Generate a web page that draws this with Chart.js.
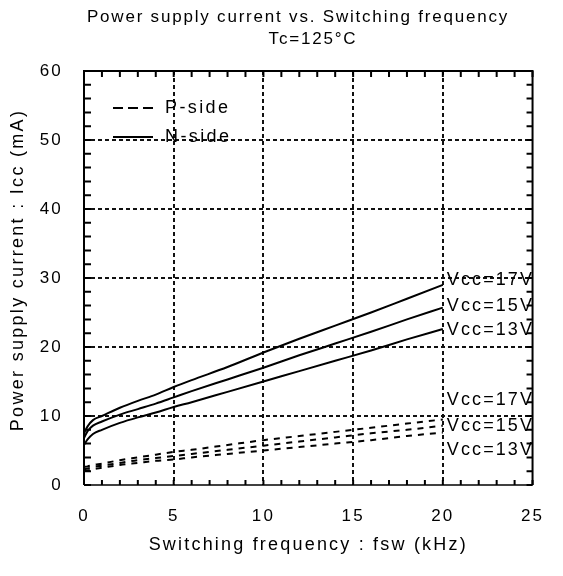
<!DOCTYPE html>
<html>
<head>
<meta charset="utf-8">
<script src="https://cdn.jsdelivr.net/npm/chart.js@4"></script>
<style>
  html, body { margin: 0; padding: 0; background: #fff; }
  canvas { display: block; }
</style>
</head>
<body>
<canvas id="chart" width="563" height="576"></canvas>
<script>
// ---------------------------------------------------------
// Datos (fsw en kHz, Icc en mA)
// ---------------------------------------------------------
const freq = [0, 0.2, 0.5, 1, 2, 3, 4, 5, 6, 8, 10, 12, 14, 16, 18, 20];

// N-side (linea continua)
const nSide17 = [7.5, 8.5, 9.4, 10.0, 11.2, 12.2, 13.1, 14.2, 15.2, 17.1, 19.2, 21.2, 23.1, 25.0, 27.0, 29.0];
const nSide15 = [6.8, 7.8, 8.6, 9.2, 10.2, 11.0, 11.8, 12.7, 13.6, 15.3, 17.0, 18.8, 20.5, 22.2, 24.0, 25.7];
const nSide13 = [5.8, 6.6, 7.4, 8.0, 9.0, 9.8, 10.5, 11.3, 12.0, 13.5, 15.0, 16.5, 18.0, 19.5, 21.1, 22.6];

// P-side (linea discontinua)
const pSide17 = [2.6, 2.7, 2.9, 3.1, 3.6, 4.0, 4.4, 4.8, 5.1, 5.8, 6.5, 7.1, 7.7, 8.3, 8.9, 9.5];
const pSide15 = [2.3, 2.4, 2.6, 2.8, 3.2, 3.6, 3.9, 4.2, 4.5, 5.1, 5.7, 6.3, 6.9, 7.5, 8.0, 8.6];
const pSide13 = [2.0, 2.1, 2.3, 2.5, 2.9, 3.2, 3.5, 3.7, 4.0, 4.5, 5.0, 5.5, 6.0, 6.5, 7.1, 7.6];

// Etiquetas de cada curva y su altura (mA)
const curveLabels = ['Vcc=17V', 'Vcc=15V', 'Vcc=13V', 'Vcc=17V', 'Vcc=15V', 'Vcc=13V'];
const curveLabelY = [29.7, 25.9, 22.5, 12.3, 8.6, 5.1];
const curveLabelX = 20;

const xTicks = [0, 5, 10, 15, 20, 25];
const yTicks = [0, 10, 20, 30, 40, 50, 60];

const titleLines = ['Power supply current vs. Switching frequency', 'Tc=125°C'];
const xTitle = 'Switching frequency : fsw (kHz)';
const yTitle = 'Power supply current : Icc (mA)';
const legendNames = ['P-side', 'N-side'];

const FAMILY = 'Arial, "Liberation Sans", sans-serif';
const toPoints = ys => ys.map((y, i) => ({ x: freq[i], y }));

const lineStyle = (data, dashed) => ({
  data: toPoints(data),
  borderColor: '#000',
  borderWidth: 2,
  borderDash: dashed ? [6, 6] : [],
  pointRadius: 0,
  cubicInterpolationMode: 'monotone',
  fill: false
});

// texto con espaciado propio
function drawText(ctx, text, x, y, size, spacing, align) {
  ctx.font = size + 'px ' + FAMILY;
  ctx.letterSpacing = spacing + 'px';
  ctx.textAlign = align;
  ctx.fillText(text, x, y);
}

// ---------------------------------------------------------
// Plugin: rejilla punteada, marco, marcas interiores, textos
// ---------------------------------------------------------
const decor = {
  id: 'decor',
  beforeDraw(chart) {
    chart.ctx.letterSpacing = '2.2px';
  },
  beforeDatasetsDraw(chart) {
    const { ctx, chartArea: a, scales: { x, y } } = chart;
    ctx.save();
    ctx.strokeStyle = '#111';
    ctx.lineWidth = 2;
    ctx.setLineDash([4, 3]);
    xTicks.slice(1, -1).forEach(v => {
      const px = Math.round(x.getPixelForValue(v));
      ctx.beginPath(); ctx.moveTo(px, a.top); ctx.lineTo(px, a.bottom); ctx.stroke();
    });
    yTicks.slice(1, -1).forEach(v => {
      const py = Math.round(y.getPixelForValue(v));
      ctx.beginPath(); ctx.moveTo(a.left, py); ctx.lineTo(a.right, py); ctx.stroke();
    });
    ctx.restore();
  },
  afterDatasetsDraw(chart) {
    const { ctx, chartArea: a, scales: { x, y } } = chart;
    ctx.save();
    ctx.strokeStyle = '#000';
    ctx.setLineDash([]);

    // marcas menores y mayores, hacia dentro
    ctx.lineWidth = 2;
    for (let v = 0; v <= 25; v += 1) {
      const px = x.getPixelForValue(v);
      ctx.beginPath();
      ctx.moveTo(px, a.bottom); ctx.lineTo(px, a.bottom - 5);
      ctx.moveTo(px, a.top); ctx.lineTo(px, a.top + 6);
      ctx.stroke();
    }
    for (let v = 0; v <= 60; v += 2) {
      const py = y.getPixelForValue(v);
      ctx.beginPath();
      ctx.moveTo(a.left, py); ctx.lineTo(a.left + 7, py);
      ctx.moveTo(a.right, py); ctx.lineTo(a.right - 6, py);
      ctx.stroke();
    }

    // marco
    ctx.lineWidth = 2;
    ctx.beginPath();
    ctx.moveTo(a.left, a.bottom); ctx.lineTo(a.left, a.top);
    ctx.lineTo(a.right, a.top); ctx.lineTo(a.right, a.bottom);
    ctx.stroke();
    ctx.lineWidth = 1.5;
    ctx.beginPath();
    ctx.moveTo(a.left, a.bottom); ctx.lineTo(a.right, a.bottom);
    ctx.stroke();
    ctx.restore();
  },
  afterDraw(chart) {
    const { ctx, scales: { x, y } } = chart;
    ctx.save();
    ctx.fillStyle = '#000';
    ctx.textBaseline = 'middle';

    // titulo
    drawText(ctx, titleLines[0], 298, 17, 17, 1.8, 'center');
    drawText(ctx, titleLines[1], 313, 39, 17, 1.8, 'center');

    // etiquetas de curvas
    curveLabels.forEach((t, i) => {
      drawText(ctx, t, x.getPixelForValue(curveLabelX) + 4, y.getPixelForValue(curveLabelY[i]), 18, 2.1, 'left');
    });

    // leyenda
    ctx.strokeStyle = '#000';
    ctx.lineWidth = 2;
    ctx.setLineDash([10, 5]);
    ctx.beginPath(); ctx.moveTo(113, 108); ctx.lineTo(153, 108); ctx.stroke();
    ctx.setLineDash([]);
    ctx.beginPath(); ctx.moveTo(113, 137); ctx.lineTo(153, 137); ctx.stroke();
    drawText(ctx, legendNames[0], 165, 108, 18, 2.4, 'left');
    drawText(ctx, legendNames[1], 165, 137, 18, 2.4, 'left');

    // titulo del eje Y
    ctx.translate(18, 270);
    ctx.rotate(-Math.PI / 2);
    drawText(ctx, yTitle, 0, 0, 18, 2.3, 'center');
    ctx.restore();
  }
};

new Chart(document.getElementById('chart'), {
  type: 'line',
  data: {
    datasets: [
      lineStyle(nSide17, false),
      lineStyle(nSide15, false),
      lineStyle(nSide13, false),
      lineStyle(pSide17, true),
      lineStyle(pSide15, true),
      lineStyle(pSide13, true)
    ]
  },
  options: {
    responsive: false,
    animation: false,
    devicePixelRatio: 1,
    layout: { padding: { left: 0, right: 25, top: 71, bottom: 20 } },
    plugins: {
      legend: { display: false },
      tooltip: { enabled: false },
      title: { display: false }
    },
    scales: {
      x: {
        type: 'linear',
        min: 0,
        max: 25,
        afterBuildTicks: s => { s.ticks = xTicks.map(v => ({ value: v })); },
        afterFit: s => { s.height = 71; },
        grid: { display: false, drawTicks: false },
        border: { display: false },
        ticks: { color: '#000', font: { size: 17, family: FAMILY }, padding: 21, maxRotation: 0 },
        title: {
          display: true,
          text: xTitle,
          color: '#000',
          font: { size: 18, family: FAMILY },
          padding: { top: 4, bottom: 0 }
        }
      },
      y: {
        min: 0,
        max: 60,
        afterBuildTicks: s => { s.ticks = yTicks.map(v => ({ value: v })); },
        afterFit: s => { s.width = 84; },
        grid: { display: false, drawTicks: false },
        border: { display: false },
        ticks: { color: '#000', font: { size: 17, family: FAMILY }, padding: 21 }
      }
    }
  },
  plugins: [decor]
});
</script>
</body>
</html>
